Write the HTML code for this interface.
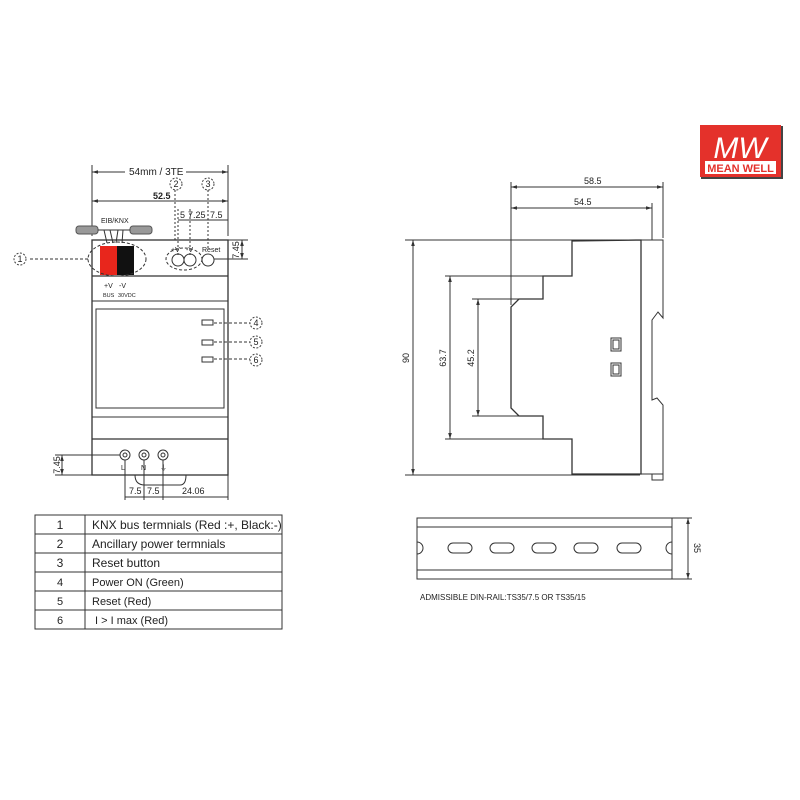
<!DOCTYPE html>
<html><head><meta charset="utf-8"><style>
html,body{margin:0;padding:0;background:#fff;width:800px;height:800px;overflow:hidden}
svg text{font-family:"Liberation Sans",Arial,sans-serif;fill:#222}
</style></head><body>
<svg width="800" height="800" viewBox="0 0 800 800" xmlns="http://www.w3.org/2000/svg">
<defs>
<marker id="a" viewBox="0 0 10 10" refX="10" refY="5" markerWidth="6" markerHeight="6" orient="auto-start-reverse"><path d="M0,2 L10,5 L0,8 z" fill="#333"/></marker>
</defs>
<g stroke="#333" fill="none" stroke-width="1">
<line x1="92" y1="165" x2="92" y2="236"/><line x1="228" y1="165" x2="228" y2="236"/>
<line x1="92" y1="172" x2="125" y2="172" marker-start="url(#a)"/><line x1="186" y1="172" x2="228" y2="172" marker-end="url(#a)"/>
<line x1="92" y1="201" x2="228" y2="201" marker-start="url(#a)" marker-end="url(#a)"/>
<line x1="178" y1="220" x2="228" y2="220"/>
<line x1="178" y1="209" x2="178" y2="255" stroke-dasharray="2,2"/>
<line x1="190" y1="209" x2="190" y2="255" stroke-dasharray="2,2"/>
<line x1="208" y1="190" x2="208" y2="250" stroke-dasharray="2,2"/>
<line x1="175" y1="190" x2="175" y2="240" stroke-dasharray="2,2"/>
<rect x="76" y="226" width="22" height="8" rx="3" fill="#999" stroke="#555"/>
<rect x="130" y="226" width="22" height="8" rx="3" fill="#999" stroke="#555"/>
<path d="M98,230 H130 M104,230 L107,243 M110,230 L113,243 M118,230 L116,243 M123,230 L122,243"/>
<rect x="92" y="240" width="136" height="235" stroke-width="1.3"/>
<line x1="92" y1="276" x2="228" y2="276" stroke-width="1.3"/>
<line x1="92" y1="301" x2="228" y2="301"/>
<rect x="96" y="309" width="128" height="99"/>
<line x1="92" y1="417" x2="228" y2="417"/>
<line x1="92" y1="439" x2="228" y2="439" stroke-width="1.3"/>
<path d="M135,475 Q135,485 145,485 H180 Q186,485 186,475"/>
<rect x="100" y="246" width="17" height="29" fill="#e8261c" stroke="none"/>
<rect x="117" y="246" width="17" height="29" fill="#111" stroke="none"/>
<ellipse cx="117" cy="259" rx="29" ry="17" stroke-dasharray="3,2"/>
<line x1="30" y1="259" x2="88" y2="259" stroke-dasharray="3,2"/>
<circle cx="178" cy="260" r="6"/><circle cx="190" cy="260" r="6"/>
<ellipse cx="184" cy="259" rx="18" ry="11" stroke-dasharray="3,2"/>
<circle cx="208" cy="260" r="6"/>
<line x1="214" y1="259" x2="248" y2="259"/><line x1="228" y1="240" x2="248" y2="240"/>
<line x1="242" y1="240" x2="242" y2="259" marker-start="url(#a)" marker-end="url(#a)"/>
<rect x="202" y="320" width="11" height="5"/><rect x="202" y="340" width="11" height="5"/><rect x="202" y="357" width="11" height="5"/>
<path d="M214,323 H250 M214,342 H250 M214,359 H250" stroke-dasharray="3,2"/>
<circle cx="125" cy="455" r="5"/><circle cx="125" cy="455" r="2"/>
<circle cx="144" cy="455" r="5"/><circle cx="144" cy="455" r="2"/>
<circle cx="163" cy="455" r="5"/><circle cx="163" cy="455" r="2"/>
<line x1="55" y1="455" x2="120" y2="455"/><line x1="55" y1="475" x2="92" y2="475"/>
<line x1="62" y1="455" x2="62" y2="475" marker-start="url(#a)" marker-end="url(#a)"/>
<path d="M125,460 V500 M144,460 V500 M163,460 V500 M228,475 V500"/>
<line x1="125" y1="497" x2="228" y2="497"/>
<line x1="405" y1="240" x2="640" y2="240"/><line x1="405" y1="475" x2="640" y2="475"/>
<line x1="413" y1="240" x2="413" y2="475" marker-start="url(#a)" marker-end="url(#a)"/>
<line x1="445" y1="276" x2="572" y2="276"/><line x1="445" y1="439" x2="543" y2="439"/>
<line x1="450" y1="276" x2="450" y2="439" marker-start="url(#a)" marker-end="url(#a)"/>
<line x1="472" y1="299" x2="543" y2="299"/><line x1="472" y1="416" x2="519" y2="416"/>
<line x1="478" y1="299" x2="478" y2="416" marker-start="url(#a)" marker-end="url(#a)"/>
<line x1="511" y1="182" x2="511" y2="305"/><line x1="663" y1="182" x2="663" y2="238"/><line x1="652" y1="203" x2="652" y2="240"/>
<line x1="511" y1="187" x2="663" y2="187" marker-start="url(#a)" marker-end="url(#a)"/>
<line x1="511" y1="208" x2="652" y2="208" marker-start="url(#a)" marker-end="url(#a)"/>
<path d="M572,241 L572,276 L543,276 L543,299 L519,299 L511,307 L511,408 L519,416 L543,416 L543,439 L572,439 L572,474 L641,474 L641,240 Z" stroke-width="1.3"/>
<path d="M641,240 H663 V318 L658,312 L655,316 L652,320 V400 L657,398 L663,405 V474 H641"/>
<rect x="652" y="474" width="11" height="6"/>
<rect x="611" y="338" width="10" height="13"/><rect x="613" y="340" width="6" height="9"/>
<rect x="611" y="363" width="10" height="13"/><rect x="613" y="365" width="6" height="9"/>
<rect x="417" y="518" width="255" height="61"/>
<line x1="417" y1="527" x2="672" y2="527"/><line x1="417" y1="570" x2="672" y2="570"/>
<path d="M417,542 A6,6 0 0 1 417,554"/><path d="M672,542 A6,6 0 0 0 672,554"/>
<rect x="448" y="543" width="24" height="10" rx="5"/><rect x="490" y="543" width="24" height="10" rx="5"/>
<rect x="532" y="543" width="24" height="10" rx="5"/><rect x="574" y="543" width="24" height="10" rx="5"/>
<rect x="617" y="543" width="24" height="10" rx="5"/>
<line x1="672" y1="518" x2="692" y2="518"/><line x1="672" y1="579" x2="692" y2="579"/>
<line x1="688" y1="518" x2="688" y2="579" marker-start="url(#a)" marker-end="url(#a)"/>
<rect x="35" y="515" width="247" height="114"/>
<path d="M35,534 H282 M35,553 H282 M35,572 H282 M35,591 H282 M35,610 H282 M85,515 V629"/>
</g>
<g font-size="9">
<text x="129" y="175" font-size="10">54mm / 3TE</text>
<text x="153" y="199" font-weight="bold">52.5</text>
<text x="180" y="218">5</text><text x="188" y="218">7.25</text><text x="210" y="218">7.5</text>
<text x="101" y="223" font-size="7">EIB/KNX</text>
<text x="171" y="252" font-size="7">+V</text><text x="186" y="252" font-size="7">-V</text>
<text x="202" y="252" font-size="7">Reset</text>
<text x="104" y="288" font-size="7">+V</text><text x="119" y="288" font-size="7">-V</text>
<text x="103" y="297" font-size="5.5">BUS</text><text x="118" y="297" font-size="5.5">30VDC</text>
<text x="121" y="470" font-size="7">L</text><text x="141" y="470" font-size="7">N</text><text x="160" y="470" font-size="7">⏚</text>
<text x="129" y="494">7.5</text><text x="147" y="494">7.5</text><text x="182" y="494">24.06</text>
<text x="584" y="184">58.5</text><text x="574" y="205">54.5</text>
<text x="420" y="600" font-size="8">ADMISSIBLE DIN-RAIL:TS35/7.5 OR TS35/15</text>
</g>
<g font-size="9" text-anchor="middle">
<text transform="translate(239,250) rotate(-90)">7.45</text>
<text transform="translate(60,465) rotate(-90)">7.45</text>
<text transform="translate(409,358) rotate(-90)">90</text>
<text transform="translate(446,358) rotate(-90)">63.7</text>
<text transform="translate(474,358) rotate(-90)">45.2</text>
<text transform="translate(694,548) rotate(90)">35</text>
</g>
<g font-size="9" text-anchor="middle">
<circle cx="20" cy="259" r="6" fill="none" stroke="#444" stroke-dasharray="2,1.5"/><text x="20" y="262">1</text>
<circle cx="176" cy="184" r="6" fill="none" stroke="#444" stroke-dasharray="2,1.5"/><text x="176" y="187">2</text>
<circle cx="208" cy="184" r="6" fill="none" stroke="#444" stroke-dasharray="2,1.5"/><text x="208" y="187">3</text>
<circle cx="256" cy="323" r="6" fill="none" stroke="#444" stroke-dasharray="2,1.5"/><text x="256" y="326">4</text>
<circle cx="256" cy="342" r="6" fill="none" stroke="#444" stroke-dasharray="2,1.5"/><text x="256" y="345">5</text>
<circle cx="256" cy="360" r="6" fill="none" stroke="#444" stroke-dasharray="2,1.5"/><text x="256" y="363">6</text>
</g>
<g font-size="12">
<text x="60" y="529" text-anchor="middle">1</text><text x="92" y="529">KNX bus termnials (Red :+, Black:-)</text>
<text x="60" y="548" text-anchor="middle">2</text><text x="92" y="548">Ancillary power termnials</text>
<text x="60" y="567" text-anchor="middle">3</text><text x="92" y="567">Reset button</text>
<text x="60" y="586" text-anchor="middle" font-size="11">4</text><text x="92" y="586" font-size="11">Power ON (Green)</text>
<text x="60" y="605" text-anchor="middle" font-size="11">5</text><text x="92" y="605" font-size="11">Reset (Red)</text>
<text x="60" y="624" text-anchor="middle" font-size="11">6</text><text x="95" y="624" font-size="11">I &gt; I max (Red)</text>
</g>
<rect x="701" y="126" width="82" height="53" fill="#444"/>
<rect x="700" y="125" width="81" height="52" fill="#e4312b"/>
<rect x="705" y="161" width="71" height="13" fill="#fff"/>
<text x="740" y="158" text-anchor="middle" font-size="30" font-style="italic" style="fill:#fff">MW</text>
<text x="740.5" y="172" text-anchor="middle" font-size="11" font-weight="bold" style="fill:#e4312b">MEAN WELL</text>
</svg>
</body></html>
